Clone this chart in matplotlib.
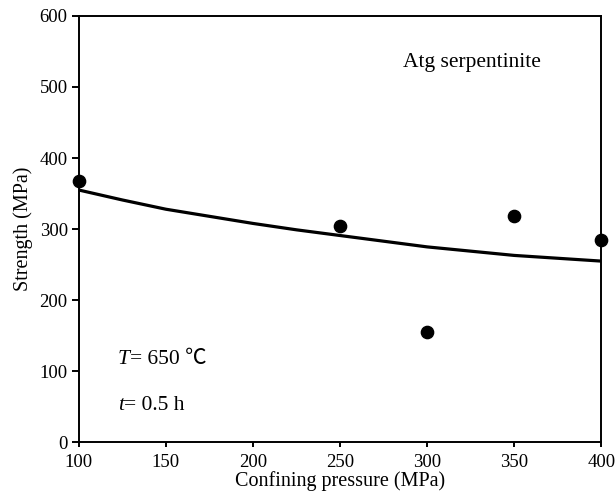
import matplotlib
matplotlib.use("Agg")
import matplotlib.pyplot as plt

# Measured strength at each confining pressure
pressure = [100, 250, 300, 350, 400]
strength = [367, 305, 155, 318, 285]

# Fitted trend curve
fit_pressure = [100, 125, 150, 175, 200, 225, 250, 275, 300, 325, 350, 375, 400]
fit_strength = [355, 341, 328, 318, 308, 299, 291, 283, 275, 269, 263, 259, 255]

x_ticks = [100, 150, 200, 250, 300, 350, 400]
y_ticks = [0, 100, 200, 300, 400, 500, 600]

serif = ["Liberation Serif", "Noto Sans CJK SC"]
plt.rcParams["font.family"] = serif
tick_fs = 13.5
label_fs = 14.5
note_fs = 15.5

fig = plt.figure(figsize=(6.16, 4.97), dpi=100)
ax = fig.add_axes([0.128, 0.110, 0.848, 0.858])

ax.plot(fit_pressure, fit_strength, color="black", lw=2.3, solid_capstyle="butt", zorder=2)
ax.scatter(pressure, strength, s=78, color="black", zorder=3, clip_on=False)

ax.set_xlim(100, 400)
ax.set_ylim(0, 600)
ax.set_xticks(x_ticks)
ax.set_yticks(y_ticks)
ax.tick_params(direction="out", width=1.4, labelsize=tick_fs, colors="black")
ax.tick_params(axis="x", length=3.5, pad=5)
ax.tick_params(axis="y", length=5, pad=3)
for s in ax.spines.values():
    s.set_linewidth(1.4)

ax.set_xlabel("Confining pressure (MPa)", fontsize=label_fs, labelpad=0)
ax.set_ylabel("Strength (MPa)", fontsize=label_fs, labelpad=5)

ax.text(326, 535, "Atg serpentinite", fontsize=note_fs, ha="center", va="center")

t1 = ax.text(122.5, 116, "T", fontsize=note_fs, style="italic", ha="left", va="center")
ax.annotate("= 650 ℃", xy=(1, 0), xycoords=t1, fontsize=note_fs, ha="left", va="bottom")
t2 = ax.text(122.5, 52, "t", fontsize=note_fs, style="italic", ha="left", va="center")
ax.annotate("= 0.5 h", xy=(1, 0), xycoords=t2, fontsize=note_fs, ha="left", va="bottom")

fig.savefig("out.png", dpi=100, facecolor="white")
